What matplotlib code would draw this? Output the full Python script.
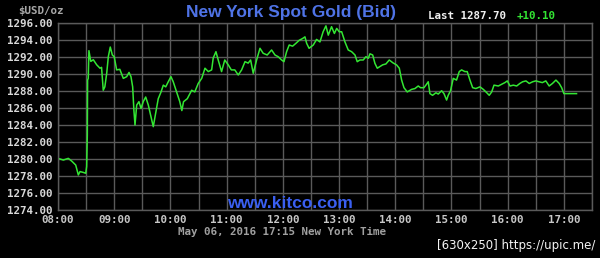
import matplotlib
matplotlib.use("Agg")
import matplotlib.pyplot as plt
from matplotlib.ticker import MultipleLocator, FuncFormatter

# minutes after 08:00 New York time
minutes = [0, 5.7, 11, 14.6, 18.9, 21.7, 23.5, 27, 29.6, 30.6, 31.3, 31.6, 32.3, 33, 35, 37.7,
           41.3, 44.8, 46.5, 48.3, 50, 52, 53.7, 55.8, 58, 60, 62.6, 66, 69.7, 73.3, 75.8, 77.9,
           79.7, 81, 82.2, 84, 86.4, 88.6, 91, 93.6, 96.4, 99.3, 101.7, 104.3, 107, 110, 112.4,
           115, 117.7, 120.6, 123, 126.6, 130, 132.2, 134, 138, 142.7, 146, 149.7, 153.4, 156.9,
           160.4, 164, 165.7, 168.6, 171, 174.6, 178, 181.7, 185, 188.7, 192.4, 196, 199.6, 203,
           205.6, 208.4, 212, 215.6, 219, 223.3, 228, 231.6, 235, 238.7, 241.2, 244, 246.8, 250.4,
           254, 257.5, 261, 263.6, 265.4, 268, 272.5, 276, 279.6, 283, 286, 288.5, 292, 295, 297.5,
           300.2, 302.8, 306.3, 309.8, 313.4, 317, 319.4, 322.3, 325.8, 328.7, 331.2, 333, 335.9,
           338.3, 340.8, 343.7, 346.6, 350, 353.6, 357.3, 361.5, 364.3, 366.8, 369.3, 372.8, 377.4,
           381, 384.5, 387, 390.6, 392.7, 395.2, 397, 399.8, 403.4, 405.9, 409.5, 412, 414.8, 416.5,
           419, 421.9, 425.4, 428.3, 430.8, 434.3, 436.8, 439.7, 442.6, 446, 450.4, 454, 456.8,
           460.3, 462.9, 465.4, 470, 473.6, 477, 479.6, 482.5, 486, 489.6, 493, 496, 499.5, 503,
           506.7, 510, 513.5, 517, 520.7, 524.3, 527.8, 531.5, 535, 537.6, 540, 553.5]
prices = [1280.06, 1279.86, 1280.06, 1279.74, 1279.27, 1278.1, 1278.5, 1278.4, 1278.3, 1279.1,
          1282.8, 1289.3, 1289.5, 1292.77, 1291.5, 1291.7, 1291.1, 1290.7, 1290.8, 1288.1, 1288.5,
          1290.1, 1292.06, 1293.2, 1292.26, 1292.06, 1290.5, 1290.57, 1289.5, 1289.7, 1290.2,
          1289.7, 1288.5, 1285.76, 1284.0, 1286.35, 1286.75, 1285.96, 1286.75, 1287.3, 1286.35,
          1284.97, 1283.8, 1285.4, 1287.1, 1287.9, 1288.7, 1288.5, 1289.1, 1289.7, 1289.1, 1287.9,
          1286.75, 1285.7, 1286.75, 1287.1, 1288.1, 1287.9, 1288.9, 1289.5, 1290.7, 1290.3, 1290.5,
          1291.9, 1292.65, 1291.67, 1290.3, 1291.67, 1291.1, 1290.5, 1290.5, 1289.9, 1290.5,
          1291.47, 1291.3, 1291.67, 1290.1, 1291.67, 1293.05, 1292.46, 1292.26, 1292.85, 1292.26,
          1292.06, 1291.67, 1291.47, 1292.65, 1293.44, 1293.3, 1293.64, 1294.0, 1294.2, 1294.4,
          1293.64, 1293.05, 1293.44, 1294.1, 1293.8, 1295.0, 1295.7, 1294.6, 1295.6, 1294.8,
          1295.4, 1295.0, 1295.0, 1293.8, 1292.85, 1292.65, 1292.26, 1291.47, 1291.67, 1291.67,
          1292.06, 1291.87, 1292.4, 1292.26, 1291.27, 1290.7, 1290.9, 1291.1, 1291.2, 1291.67,
          1291.35, 1291.08, 1290.7, 1289.3, 1288.4, 1287.9, 1288.2, 1288.3, 1288.6, 1288.4,
          1288.4, 1288.7, 1289.1, 1287.7, 1287.5, 1287.8, 1287.65, 1288.04, 1287.7, 1286.94,
          1287.5, 1288.04, 1289.5, 1289.3, 1290.3, 1290.5, 1290.3, 1290.3, 1289.3, 1288.4, 1288.3,
          1288.5, 1288.2, 1287.9, 1287.5, 1287.9, 1288.7, 1288.6, 1288.8, 1289.0, 1289.2, 1288.6,
          1288.7, 1288.6, 1288.9, 1289.1, 1289.2, 1288.9, 1289.1, 1289.2, 1289.1, 1289.0, 1289.2,
          1288.6, 1288.9, 1289.3, 1288.9, 1288.4, 1287.7, 1287.7]

title = "New York Spot Gold (Bid)"
last_text = "Last 1287.70"
change_text = "+10.10"
unit_text = "$USD/oz"
date_text = "May 06, 2016 17:15 New York Time"
site_text = "www.kitco.com"
mark_text = "[630x250] https://upic.me/"
hour_labels = ["08:00", "09:00", "10:00", "11:00", "12:00", "13:00", "14:00",
               "15:00", "16:00", "17:00"]

W, H = 600, 258
fig = plt.figure(figsize=(W / 100, H / 100), dpi=100, facecolor="black")
ax = fig.add_axes([58 / W, 1 - 209.7 / H, (592 - 58) / W, (209.7 - 23.3) / H])
ax.set_facecolor("black")

ax.plot(minutes, prices, color="#33e633", lw=1.1, solid_joinstyle="round")

ax.set_xlim(0, 570)
ax.set_ylim(1274, 1296)
ax.xaxis.set_major_locator(MultipleLocator(60))
ax.xaxis.set_minor_locator(MultipleLocator(30))
ax.yaxis.set_major_locator(MultipleLocator(2))

def xfmt(v, pos):
    i = int(round(v / 60))
    return hour_labels[i] if 0 <= i < len(hour_labels) else ""

ax.xaxis.set_major_formatter(FuncFormatter(xfmt))
ax.yaxis.set_major_formatter(FuncFormatter(lambda v, p: f"{v:.2f}"))

mono = "DejaVu Sans Mono"
ax.tick_params(axis="both", which="both", length=0)
ax.tick_params(axis="y", pad=4, labelcolor="#d8d8d8", labelsize=7.8)
ax.tick_params(axis="x", pad=4, labelcolor="#c8c8c8", labelsize=7.8)
for lab in ax.get_xticklabels() + ax.get_yticklabels():
    lab.set_fontfamily(mono)
    lab.set_fontweight("bold")

ax.grid(True, which="both", color="#5a5a5a", lw=1)
ax.set_axisbelow(True)
for s in ax.spines.values():
    s.set_color("#5a5a5a")
    s.set_linewidth(1)

def fx(px):
    return px / W

def fy(py):
    return 1 - py / H

fig.text(fx(291), fy(12), title, color="#4f73e6", fontsize=12.5, fontweight="bold",
         family="Liberation Sans", ha="center", va="center")
fig.text(fx(428), fy(16), last_text, color="#f0f0f0", fontsize=7.8, fontweight="bold",
         family=mono, ha="left", va="center")
fig.text(fx(517), fy(16), change_text, color="#33e633", fontsize=7.8, fontweight="bold",
         family=mono, ha="left", va="center")
fig.text(fx(18), fy(11), unit_text, color="#a8a8a8", fontsize=7.8, fontweight="bold",
         family=mono, ha="left", va="center")
fig.text(fx(282), fy(231.5), date_text, color="#a0a0a0", fontsize=7.8, fontweight="bold",
         family=mono, ha="center", va="center")
fig.text(fx(290), fy(203), site_text, color="#3a5ff0", fontsize=12.5, fontweight="bold",
         family="Liberation Sans", ha="center", va="center")
fig.text(fx(595), fy(246), mark_text, color="#f4f4f4", fontsize=8.5,
         family="DejaVu Sans", ha="right", va="center")

fig.savefig("out.png", dpi=100, facecolor="black")
